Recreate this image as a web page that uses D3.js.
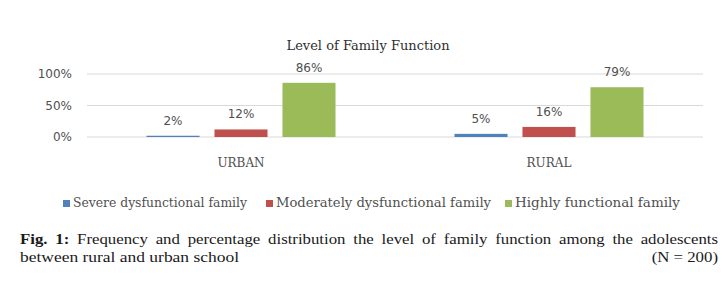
<!DOCTYPE html>
<html><head><meta charset="utf-8">
<script src="https://cdn.jsdelivr.net/npm/d3@7"></script>
<style>body{margin:0;background:#fff}svg{display:block}</style>
</head><body>
<svg id="c" width="722" height="286"></svg>
<script>
const categories = ["URBAN", "RURAL"];
const seriesNames = ["Severe dysfunctional family", "Moderately dysfunctional family", "Highly functional family"];
const severe = [2, 5];
const moderate = [12, 16];
const highly = [86, 79];
const yTicks = [0, 50, 100];
const colors = ["#4F81BD", "#C0504D", "#9BBB59"];
const title = "Level of Family Function";
const caption1 = "Frequency and percentage distribution the level of family function among the adolescents";
const caption2 = "between rural and urban school";
const captionN = "(N = 200)";

const values = [severe, moderate, highly];
const serif = "'DejaVu Serif', serif";
const capFont = "'Liberation Serif', serif";
const sans = "'DejaVu Sans', sans-serif";
const svg = d3.select("#c");

const x0 = d3.scaleBand().domain(categories).range([87, 703]).paddingInner(0).paddingOuter(0);
const x1 = d3.scaleBand().domain(seriesNames).range([0, x0.bandwidth()]).paddingInner(0.22).paddingOuter(0.875);
const y = d3.scaleLinear().domain([0, 100]).range([137, 74]);

// gridlines
svg.append("g").selectAll("line").data(yTicks).join("line")
  .attr("x1", 87).attr("x2", 703)
  .attr("y1", d => y(d)).attr("y2", d => y(d))
  .attr("stroke", "#d9d9d9").attr("stroke-width", 1);

// y axis
const yAxis = d3.axisLeft(y).tickValues(yTicks).tickSize(0).tickPadding(0).tickFormat(d => d + "%");
const ga = svg.append("g").attr("transform", "translate(72,0)").call(yAxis);
ga.select(".domain").remove();
ga.selectAll("text").attr("font-family", sans).attr("font-size", 12).attr("fill", "#505050");

// bars
const data = [];
categories.forEach((c, i) => seriesNames.forEach((s, j) => data.push({c, s, j, v: values[j][i]})));
svg.append("g").selectAll("rect").data(data).join("rect")
  .attr("x", d => x0(d.c) + x1(d.s))
  .attr("width", x1.bandwidth())
  .attr("y", d => y(d.v))
  .attr("height", d => y(0) - y(d.v))
  .attr("fill", d => colors[d.j]);

svg.append("g").selectAll("text").data(data).join("text")
  .attr("x", d => x0(d.c) + x1(d.s) + x1.bandwidth() / 2)
  .attr("y", d => y(d.v) - 11)
  .attr("text-anchor", "middle")
  .attr("font-family", sans).attr("font-size", 12).attr("fill", "#505050")
  .text(d => d.v + "%");

// category axis labels
svg.append("g").selectAll("text").data(categories).join("text")
  .attr("x", d => x0(d) + x0.bandwidth() / 2)
  .attr("y", 167)
  .attr("text-anchor", "middle")
  .attr("font-family", serif).attr("font-size", 12).attr("fill", "#505050")
  .text(d => d);

// title
svg.append("text").attr("x", 368).attr("y", 50).attr("text-anchor", "middle")
  .attr("font-family", serif).attr("font-size", 12).attr("fill", "#303030")
  .attr("textLength", 163).attr("lengthAdjust", "spacingAndGlyphs")
  .text(title);

// legend
const legX = [63, 266, 505];
const legW = [174, 215, 165];
const lg = svg.append("g").selectAll("g").data(seriesNames).join("g")
  .attr("transform", (d, i) => `translate(${legX[i]},0)`);
lg.append("rect").attr("x", 0).attr("y", 200).attr("width", 7).attr("height", 7)
  .attr("fill", (d, i) => colors[i]);
lg.append("text").attr("x", 10).attr("y", 207)
  .attr("font-family", serif).attr("font-size", 12).attr("fill", "#505050")
  .attr("textLength", (d, i) => legW[i]).attr("lengthAdjust", "spacingAndGlyphs")
  .text(d => d);

// caption (horizontally widened to mimic Palatino; line 1 justified via word spacing)
const sx = 1.12;
const capG = svg.append("g").attr("transform", `translate(20,0) scale(${sx},1)`);
const cap = capG.append("text").attr("x", 0).attr("y", 244)
  .attr("font-family", capFont).attr("font-size", 15).attr("fill", "#1a1a1a");
cap.append("tspan").attr("font-weight", "bold").text("Fig. 1:");
cap.append("tspan").text(" " + caption1);
const natural = cap.node().getComputedTextLength();
const nSpaces = (("Fig. 1: " + caption1).match(/ /g) || []).length;
const extra = (698 / sx - natural) / nSpaces;
if (extra > 0) cap.style("word-spacing", extra + "px");
else cap.attr("textLength", 698 / sx).attr("lengthAdjust", "spacingAndGlyphs");

capG.append("text").attr("x", 0).attr("y", 262)
  .attr("font-family", capFont).attr("font-size", 15).attr("fill", "#1a1a1a")
  .attr("textLength", 219 / sx).attr("lengthAdjust", "spacingAndGlyphs")
  .text(caption2);
capG.append("text").attr("x", 698 / sx).attr("y", 262).attr("text-anchor", "end")
  .attr("font-family", capFont).attr("font-size", 15).attr("fill", "#1a1a1a")
  .text(captionN);
</script>
</body></html>
